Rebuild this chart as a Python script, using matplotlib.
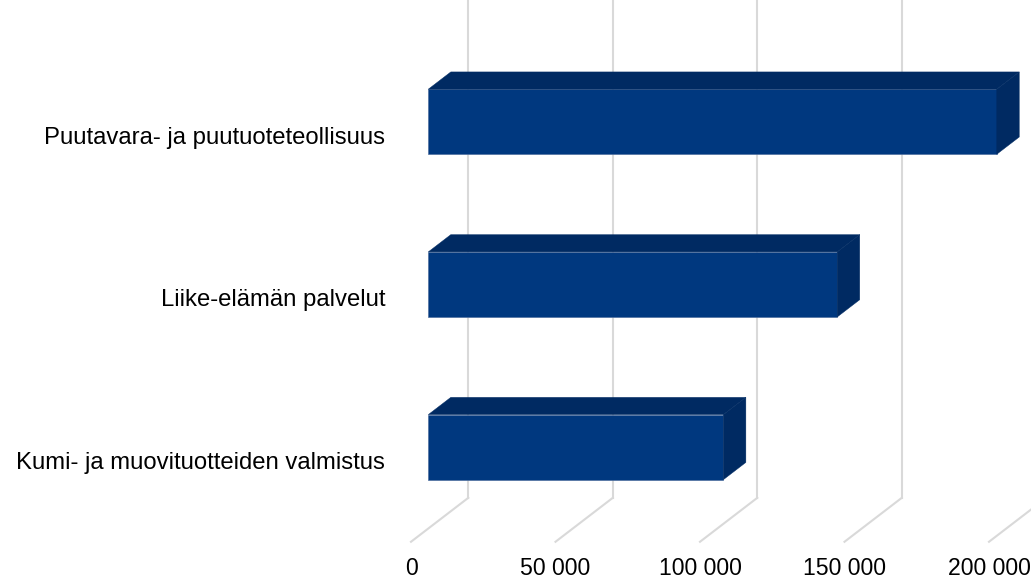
import numpy as np
import matplotlib.pyplot as plt
import matplotlib.transforms as mtransforms
from matplotlib.patches import Polygon

categories = ['Kumi- ja muovituotteiden valmistus',
              'Liike-elämän palvelut',
              'Puutavara- ja puutuoteteollisuus']
values = [102100, 141500, 196700]
xticks = [0, 50000, 100000, 150000, 200000]
xtick_labels = ['0', '50 000', '100 000', '150 000', '200 000']

plt.rcParams['font.family'] = ['Liberation Sans', 'DejaVu Sans']

W, H, DPI = 1031, 579, 100
fig = plt.figure(figsize=(W / DPI, H / DPI), dpi=DPI, facecolor='white')
ax_w, ax_h = 578.0, 528.8
ax = fig.add_axes([428.3 / W, (H - 528.5) / H, ax_w / W, ax_h / H])
ax.set_xlim(0, 200000)
ax.set_ylim(-0.5, 2.75)

# pixel -> data units, depth goes up-right along the floor
xpp = 200000 / ax_w
ypp = 3.25 / ax_h
slope = 0.767

def off(px):
    return px * xpp, px * slope * ypp

front_col = '#00387f'
dark_col = '#002a62'
grid_col = '#d9d9d9'

# back wall gridlines and floor lines
bx, by = off(40)
fx, fy = off(-17.3)
for v in xticks:
    ax.plot([v + bx, v + bx], [-0.5 + by, 4], color=grid_col, lw=1.5,
            clip_on=False, zorder=1)
    ax.plot([v + fx, v + bx], [-0.5 + fy, -0.5 + by], color=grid_col, lw=1.5,
            clip_on=False, zorder=1)

# bars: front face, top and right side
h = 0.4
dx, dy = off(22.5)
ypos = np.arange(len(categories))
ax.barh(ypos, values, height=h, color=front_col, edgecolor='#4f6f9f',
        linewidth=0.5, zorder=3)
for y, v in zip(ypos, values):
    top = [(0, y + h / 2), (v, y + h / 2), (v + dx, y + h / 2 + dy), (dx, y + h / 2 + dy)]
    side = [(v, y - h / 2), (v + dx, y - h / 2 + dy), (v + dx, y + h / 2 + dy), (v, y + h / 2)]
    for pts in (top, side):
        ax.add_patch(Polygon(pts, closed=True, facecolor=dark_col, edgecolor=dark_col,
                             linewidth=0.3, zorder=3, clip_on=False))

ax.set_yticks(ypos, categories)
ax.set_xticks(xticks, xtick_labels)
ax.tick_params(length=0, colors='black')
ax.tick_params(axis='y', pad=18.7, labelsize=17.2)
ax.tick_params(axis='x', pad=11, labelsize=16.6)

# move tick labels onto the front edge of the floor
shift = mtransforms.ScaledTranslation(-17.3 / DPI, -13.3 / DPI, fig.dpi_scale_trans)
for lab in ax.get_yticklabels() + ax.get_xticklabels():
    lab.set_transform(lab.get_transform() + shift)

for s in ax.spines.values():
    s.set_visible(False)
ax.patch.set_alpha(0)

fig.savefig('out.png', dpi=DPI, facecolor='white')
